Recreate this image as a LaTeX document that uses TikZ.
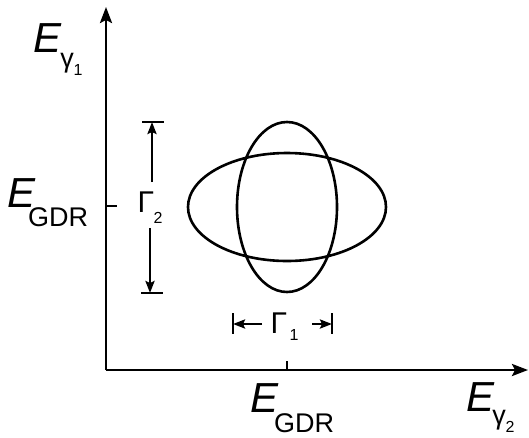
\documentclass[tikz,border=0pt]{standalone}
\usepackage{fontspec}
\setmainfont{Liberation Sans}
\usetikzlibrary{arrows.meta}
\begin{document}
\begin{tikzpicture}[x=1pt,y=-1pt,
  line width=2.6pt,
  axis/.style={-{Stealth[length=16pt,width=12pt,inset=3pt]}},
  dim/.style={-{Stealth[length=12pt,width=9pt,inset=2pt]}},
  bigE/.style={inner sep=0pt,font=\fontsize{42}{42}\selectfont\itshape},
  sub/.style={inner sep=0pt,font=\fontsize{27}{27}\selectfont},
  gam/.style={inner sep=0pt,font=\fontsize{30}{30}\selectfont},
  gsub/.style={inner sep=0pt,font=\fontsize{16}{16}\selectfont}]
\useasboundingbox (0,0) rectangle (529,437);
% axes
\coordinate (O) at (106,370);
\coordinate (ytop) at (106,7);
\coordinate (xend) at (528,370);
\draw[axis] (O) -- (ytop);
\draw[axis] (O) -- (xend);
% ticks
\coordinate (ty) at (106,206);
\coordinate (tyb) at (117,206);
\draw (ty) -- (tyb);
\coordinate (tx) at (287,370);
\coordinate (txb) at (287,361);
\draw (tx) -- (txb);
% ellipses
\draw (287,207) ellipse [x radius=99, y radius=54];
\draw (287,207) ellipse [x radius=50, y radius=85];
% Gamma 2
\coordinate (g2t) at (152,122);
\coordinate (g2b) at (150,293);
\draw (142,122) -- (164,122);
\draw (141,293) -- (163,293);
\node[gam] (G2) at (146,202) {Γ};
\node[gsub] (G2s) at (158,218) {2};
\draw[dim] (152,182) -- (g2t);
\draw[dim] (150,228) -- (g2b);
% Gamma 1
\coordinate (g1l) at (233,324);
\coordinate (g1r) at (332,324);
\draw (233,313) -- (233,334);
\draw (332,313) -- (332,334);
\node[gam] (G1) at (279,323) {Γ};
\node[gsub] (G1s) at (294,335) {1};
\draw[dim] (262,324) -- (g1l);
\draw[dim] (312,324) -- (g1r);
% labels
\node[bigE] (Ey1) at (48,38) {E};
\node[sub] (Ey1s) at (67,63) {γ};
\node[gsub] at (78,70) {1};
\node[bigE] (Eg1) at (22,193) {E};
\node[sub] (Eg1s) at (58,217) {GDR};
\node[bigE] (Eg2) at (265,398) {E};
\node[sub] (Eg2s) at (304,423) {GDR};
\node[bigE] (Ey2) at (480,397) {E};
\node[sub] (Ey2s) at (499,420) {γ};
\node[gsub] at (510,427) {2};
\end{tikzpicture}
\end{document}
